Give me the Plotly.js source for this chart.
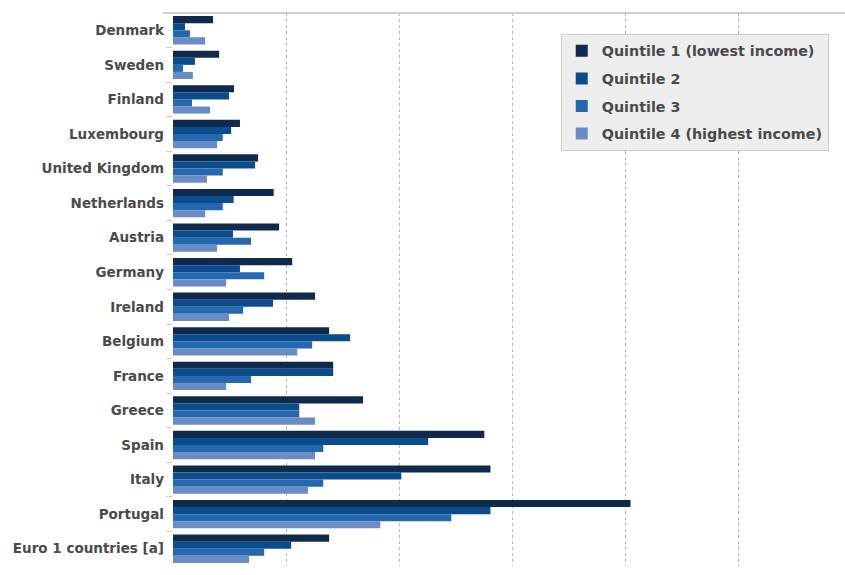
<!DOCTYPE html>
<html>
<head>
<meta charset="utf-8">
<script src="https://cdn.plot.ly/plotly-3.0.1.min.js"></script>
<style>html,body{margin:0;padding:0;background:#fff;}#chart{width:845px;height:575px;}</style>
</head>
<body>
<div id="chart"></div>
<script>
var countries = ["Denmark","Sweden","Finland","Luxembourg","United Kingdom","Netherlands","Austria","Germany","Ireland","Belgium","France","Greece","Spain","Italy","Portugal","Euro 1 countries [a]"];
var seriesNames = ["Quintile 1 (lowest income)","Quintile 2","Quintile 3","Quintile 4 (highest income)"];
var q1 = [1.77, 2.04, 2.70, 2.96, 3.76, 4.45, 4.69, 5.27, 6.28, 6.90, 7.08, 8.40, 13.76, 14.03, 20.22, 6.90];
var q2 = [0.53, 0.97, 2.48, 2.57, 3.63, 2.68, 2.65, 2.96, 4.42, 7.83, 7.08, 5.58, 11.28, 10.09, 14.03, 5.22];
var q3 = [0.75, 0.44, 0.84, 2.20, 2.20, 2.20, 3.45, 4.03, 3.10, 6.15, 3.45, 5.58, 6.64, 6.64, 12.30, 4.03];
var q4 = [1.42, 0.88, 1.64, 1.95, 1.50, 1.42, 1.95, 2.35, 2.48, 5.49, 2.35, 6.28, 6.28, 5.97, 9.16, 3.36];
var colors = ["#0f2a4c", "#0b4c8c", "#2668b0", "#6a8cc6"];
var values = [q1, q2, q3, q4];

var data = values.map(function(v, i){
  return {
    type: "bar",
    orientation: "h",
    name: seriesNames[i],
    x: v,
    y: countries,
    legendgroup: "g" + i,
    marker: {color: colors[i], line: {width: 0}},
    hoverinfo: "x+y+name"
  };
});

var textFont = {family: "DejaVu Sans, sans-serif", size: 13.5, color: "#4a4a4a", weight: "bold"};
var legendFont = {family: "DejaVu Sans, sans-serif", size: 14.3, color: "#4a4a4a", weight: "bold"};

var layout = {
  width: 845, height: 575,
  margin: {l: 173, r: 0, t: 13, b: 9, pad: 0},
  paper_bgcolor: "#ffffff",
  plot_bgcolor: "#ffffff",
  barmode: "group",
  bargap: 0.18,
  bargroupgap: 0,
  font: textFont,
  showlegend: true,
  legend: {
    x: 0.577, y: 0.962, xanchor: "left", yanchor: "top",
    bgcolor: "#eeeeee", bordercolor: "#cccccc", borderwidth: 1,
    traceorder: "grouped", tracegroupgap: 6,
    font: legendFont
  },
  xaxis: {
    range: [0, 29.7],
    dtick: 5,
    showgrid: true,
    gridcolor: "#b5b5b5",
    griddash: "dot",
    gridwidth: 1,
    zeroline: false,
    showticklabels: false,
    ticks: "",
    showline: false,
    fixedrange: true
  },
  yaxis: {
    type: "category",
    categoryorder: "array",
    categoryarray: countries,
    autorange: "reversed",
    showgrid: false,
    zeroline: false,
    showline: false,
    ticks: "outside",
    tickson: "boundaries",
    ticklen: 6,
    tickwidth: 1,
    tickcolor: "#dccaa8",
    ticklabelstandoff: 8,
    tickfont: textFont,
    fixedrange: true
  },
  shapes: [{
    type: "line", xref: "paper", yref: "paper",
    x0: -0.015, x1: 1, y0: 1, y1: 1,
    line: {color: "#cfcfcf", width: 2}
  }]
};

Plotly.newPlot("chart", data, layout, {displayModeBar: false, staticPlot: true});
</script>
</body>
</html>
